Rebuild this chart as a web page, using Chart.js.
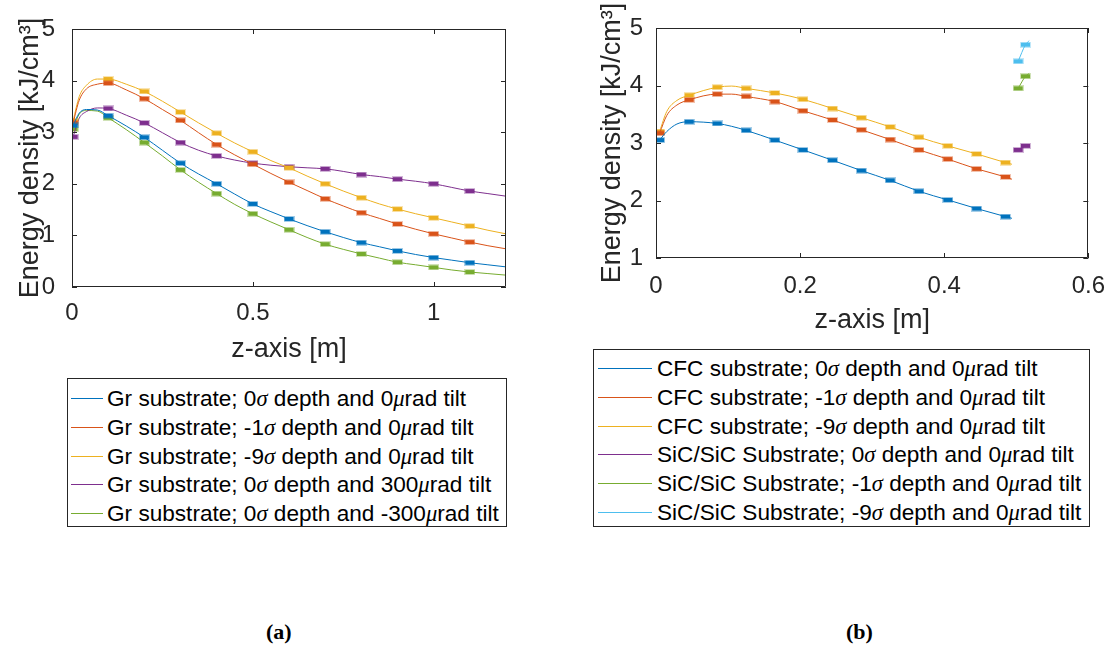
<!DOCTYPE html>
<html>
<head>
<meta charset="utf-8">
<script src="https://cdn.jsdelivr.net/npm/chart.js@4.4.1/dist/chart.umd.min.js"></script>
<style>
  body { margin: 0; background: #fff; width: 1111px; height: 647px; position: relative; overflow: hidden;
         font-family: "Liberation Sans", Arial, sans-serif; }
  canvas { position: absolute; }
  .legend { position: absolute; border: 1px solid #262626; background: #fff; box-sizing: border-box; color: #000; font-size: 22.6px; }
  .legend .row { position: absolute; left: 0; right: 0; height: 29px; line-height: 29px; white-space: nowrap; }
  .legend .ln { position: absolute; top: 14px; height: 1px; }
  .legend .tx { position: absolute; top: 0; }
  .legend i { font-family: "Liberation Serif", serif; }
  .cap { position: absolute; font: bold 22px "Liberation Serif", serif; color: #000; }
</style>
</head>
<body>
<canvas id="chartA" width="540" height="370" style="left:0;top:0"></canvas>
<canvas id="chartB" width="521" height="340" style="left:590px;top:0"></canvas>
<div id="legendA" class="legend" style="left:67px;top:378px;width:440px;height:149px"></div>
<div id="legendB" class="legend" style="left:593px;top:349px;width:497px;height:178px"></div>
<div class="cap" style="left:266px;top:619px">(a)</div>
<div class="cap" style="left:846px;top:619px">(b)</div>

<script>
// ---------------------------------------------------------------------------
// Data
// ---------------------------------------------------------------------------

// (a) graphite substrate, z positions [m]
const leftX = [0.003, 0.02, 0.04, 0.07, 0.1, 0.15, 0.2, 0.25, 0.3, 0.35, 0.4, 0.45, 0.5, 0.55,
               0.6, 0.65, 0.7, 0.75, 0.8, 0.85, 0.9, 0.95, 1.0, 1.05, 1.1, 1.15, 1.2];
const leftMarkIdx = [0, 4, 6, 8, 10, 12, 14, 16, 18, 20, 22, 24];

const grD0T0 = [3.13, 3.37, 3.44, 3.43, 3.32, 3.12, 2.90, 2.65, 2.40, 2.19, 2.00, 1.80, 1.61, 1.46,
                1.32, 1.19, 1.07, 0.96, 0.86, 0.78, 0.70, 0.63, 0.57, 0.52, 0.47, 0.43, 0.39];
const grD1T0 = [3.18, 3.62, 3.84, 3.93, 3.95, 3.82, 3.65, 3.44, 3.23, 2.99, 2.76, 2.56, 2.38, 2.20,
                2.03, 1.87, 1.71, 1.57, 1.44, 1.33, 1.22, 1.12, 1.03, 0.95, 0.87, 0.80, 0.74];
const grD9T0 = [3.22, 3.69, 3.91, 4.03, 4.03, 3.93, 3.79, 3.60, 3.39, 3.18, 2.98, 2.79, 2.62, 2.45,
                2.31, 2.15, 2.00, 1.86, 1.73, 1.61, 1.51, 1.42, 1.34, 1.26, 1.18, 1.10, 1.03];
const grD0Tp = [2.91, 3.27, 3.40, 3.47, 3.46, 3.33, 3.18, 2.99, 2.80, 2.65, 2.54, 2.46, 2.40, 2.36,
                2.33, 2.31, 2.29, 2.24, 2.18, 2.14, 2.09, 2.05, 2.00, 1.93, 1.86, 1.81, 1.76];
const grD0Tm = [3.06, 3.35, 3.42, 3.41, 3.28, 3.05, 2.80, 2.54, 2.27, 2.03, 1.81, 1.60, 1.42, 1.26,
                1.11, 0.96, 0.83, 0.73, 0.64, 0.56, 0.48, 0.43, 0.38, 0.33, 0.29, 0.26, 0.23];

// (b) CFC substrate
const cfcX = [0.005, 0.015, 0.029, 0.046, 0.085, 0.105, 0.125, 0.165, 0.204, 0.245, 0.285, 0.325,
              0.365, 0.405, 0.445, 0.485, 0.494];
const cfcMarkIdx = [0, 3, 4, 6, 7, 8, 9, 10, 11, 12, 13, 14, 15];
const cfcD0 = [3.05, 3.20, 3.33, 3.37, 3.34, 3.29, 3.22, 3.05, 2.88, 2.70, 2.52, 2.35, 2.16, 2.01, 1.86, 1.72, 1.69];
const cfcD1 = [3.17, 3.48, 3.66, 3.75, 3.85, 3.85, 3.81, 3.72, 3.56, 3.40, 3.23, 3.06, 2.88, 2.72, 2.55, 2.41, 2.37];
const cfcD9 = [3.20, 3.55, 3.74, 3.83, 3.97, 3.99, 3.95, 3.87, 3.76, 3.60, 3.44, 3.28, 3.10, 2.95, 2.81, 2.66, 2.63];

// (b) SiC/SiC substrate (only a short stretch)
const sicX = [0.5026, 0.5128, 0.518];
const sicMarkIdx = [0, 1];
const sicD0 = [2.88, 2.95, 2.97];
const sicD1 = [3.95, 4.16, 4.21];
const sicD9 = [4.42, 4.71, 4.78];

// tick labels
const leftXTicks = [0, 0.5, 1];
const leftYTicks = [0, 1, 2, 3, 4, 5];
const rightXTicks = [0, 0.2, 0.4, 0.6];
const rightYTicks = [1, 2, 3, 4, 5];

const labelsA = [
  'Gr substrate; 0<i>σ</i> depth and 0<i>μ</i>rad tilt',
  'Gr substrate; -1<i>σ</i> depth and 0<i>μ</i>rad tilt',
  'Gr substrate; -9<i>σ</i> depth and 0<i>μ</i>rad tilt',
  'Gr substrate; 0<i>σ</i> depth and 300<i>μ</i>rad tilt',
  'Gr substrate; 0<i>σ</i> depth and -300<i>μ</i>rad tilt'
];
const labelsB = [
  'CFC substrate; 0<i>σ</i> depth and 0<i>μ</i>rad tilt',
  'CFC substrate; -1<i>σ</i> depth and 0<i>μ</i>rad tilt',
  'CFC substrate; -9<i>σ</i> depth and 0<i>μ</i>rad tilt',
  'SiC/SiC Substrate; 0<i>σ</i> depth and 0<i>μ</i>rad tilt',
  'SiC/SiC Substrate; -1<i>σ</i> depth and 0<i>μ</i>rad tilt',
  'SiC/SiC Substrate; -9<i>σ</i> depth and 0<i>μ</i>rad tilt'
];

// MATLAB default line colours
const COLORS = ['#0072BD', '#D95319', '#EDB120', '#7E2F8E', '#77AC30', '#4DBEEE'];
const AXIS_COLOR = '#262626';
const FONT = '"Liberation Sans", Arial, sans-serif';

// ---------------------------------------------------------------------------
// helpers
// ---------------------------------------------------------------------------

// flat rectangular marker, the way the exported figure shows them
function markerImage(color) {
  const c = document.createElement('canvas');
  c.width = 11; c.height = 6;
  const g = c.getContext('2d');
  g.fillStyle = color;
  g.globalAlpha = 0.35;
  g.fillRect(0, 0, 11, 6);
  g.globalAlpha = 1;
  g.fillRect(1, 1, 9, 4);
  return c;
}

function makeDataset(xs, ys, markIdx, color) {
  return {
    data: xs.map((x, i) => ({ x: x, y: ys[i] })),
    borderColor: color,
    backgroundColor: color,
    borderWidth: 1,
    fill: false,
    cubicInterpolationMode: 'monotone',
    pointStyle: markerImage(color),
    pointRadius: ctx => markIdx.includes(ctx.dataIndex) ? 4 : 0,
    pointHoverRadius: 0
  };
}

// axes box with inward ticks on all four sides
const boxTicks = {
  id: 'boxTicks',
  afterDatasetsDraw(chart) {
    const { ctx, chartArea: a, scales: { x, y } } = chart;
    const L = 5;
    ctx.save();
    ctx.strokeStyle = AXIS_COLOR;
    ctx.lineWidth = 1;
    ctx.beginPath();
    ctx.rect(Math.round(a.left) + 0.5, Math.round(a.top) + 0.5,
             Math.round(a.right - a.left) - 1, Math.round(a.bottom - a.top) - 1);
    x.ticks.forEach(t => {
      const p = Math.round(x.getPixelForValue(t.value)) + 0.5;
      ctx.moveTo(p, a.bottom); ctx.lineTo(p, a.bottom - L);
      ctx.moveTo(p, a.top); ctx.lineTo(p, a.top + L);
    });
    y.ticks.forEach(t => {
      const p = Math.round(y.getPixelForValue(t.value)) + 0.5;
      ctx.moveTo(a.left, p); ctx.lineTo(a.left + L, p);
      ctx.moveTo(a.right, p); ctx.lineTo(a.right - L, p);
    });
    ctx.stroke();
    ctx.restore();
  }
};

function makePanel(id, datasets, p) {
  return new Chart(document.getElementById(id), {
    type: 'line',
    data: { datasets: datasets },
    plugins: [boxTicks],
    options: {
      responsive: false,
      animation: false,
      devicePixelRatio: 1,
      layout: { padding: { left: 0, right: p.padRight, top: p.padTop, bottom: 0 } },
      plugins: { legend: { display: false }, tooltip: { enabled: false } },
      scales: {
        x: {
          type: 'linear',
          min: p.xMin, max: p.xMax,
          grid: { display: false },
          border: { display: false },
          afterFit: s => { s.height = p.xAxisH; },
          afterBuildTicks: s => { s.ticks = p.xTicks.map(v => ({ value: v })); },
          ticks: { color: AXIS_COLOR, font: { family: FONT, size: 24 }, padding: p.xTickPad,
                   maxRotation: 0, callback: v => String(v) },
          title: { display: true, text: 'z-axis [m]', color: AXIS_COLOR,
                   font: { family: FONT, size: 27 }, padding: { top: 0, bottom: p.xTitlePad } }
        },
        y: {
          min: p.yMin, max: p.yMax,
          grid: { display: false },
          border: { display: false },
          afterFit: s => { s.width = p.yAxisW; },
          afterBuildTicks: s => { s.ticks = p.yTicks.map(v => ({ value: v })); },
          ticks: { color: AXIS_COLOR, font: { family: FONT, size: 24 }, padding: p.yTickPad,
                   callback: v => String(v) },
          title: { display: true, text: 'Energy density [kJ/cm³]', color: AXIS_COLOR,
                   font: { family: FONT, size: 27 }, padding: { top: p.yTitlePad, bottom: 0 } }
        }
      }
    }
  });
}

function buildLegend(id, labels, colors, lineFrom, lineTo, textLeft, firstTop) {
  const box = document.getElementById(id);
  labels.forEach((lab, i) => {
    const row = document.createElement('div');
    row.className = 'row';
    row.style.top = (firstTop + i * 28.8) + 'px';
    row.innerHTML = '<span class="ln" style="left:' + lineFrom + 'px;width:' + (lineTo - lineFrom) +
                    'px;background:' + colors[i] + '"></span><span class="tx" style="left:' + textLeft +
                    'px">' + lab + '</span>';
    box.appendChild(row);
  });
}

// ---------------------------------------------------------------------------
// draw
// ---------------------------------------------------------------------------
makePanel('chartA', [
  makeDataset(leftX, grD0T0, leftMarkIdx, COLORS[0]),
  makeDataset(leftX, grD1T0, leftMarkIdx, COLORS[1]),
  makeDataset(leftX, grD9T0, leftMarkIdx, COLORS[2]),
  makeDataset(leftX, grD0Tp, leftMarkIdx, COLORS[3]),
  makeDataset(leftX, grD0Tm, leftMarkIdx, COLORS[4])
], {
  xMin: 0, xMax: 1.2, yMin: 0, yMax: 5, xTicks: leftXTicks, yTicks: leftYTicks,
  padRight: 34, padTop: 29, xAxisH: 83, yAxisW: 72,
  xTickPad: 4, yTickPad: 9, xTitlePad: 4, yTitlePad: 14
});

makePanel('chartB', [
  makeDataset(cfcX, cfcD0, cfcMarkIdx, COLORS[0]),
  makeDataset(cfcX, cfcD1, cfcMarkIdx, COLORS[1]),
  makeDataset(cfcX, cfcD9, cfcMarkIdx, COLORS[2]),
  makeDataset(sicX, sicD0, sicMarkIdx, COLORS[3]),
  makeDataset(sicX, sicD1, sicMarkIdx, COLORS[4]),
  makeDataset(sicX, sicD9, sicMarkIdx, COLORS[5])
], {
  xMin: 0, xMax: 0.6, yMin: 1, yMax: 5, xTicks: rightXTicks, yTicks: rightYTicks,
  padRight: 22, padTop: 28, xAxisH: 82, yAxisW: 66,
  xTickPad: 6, yTickPad: 5, xTitlePad: 3, yTitlePad: 6
});

buildLegend('legendA', labelsA, COLORS, 3, 35, 39, 5);
buildLegend('legendB', labelsB, COLORS, 4, 58, 63, 4);
</script>
</body>
</html>
